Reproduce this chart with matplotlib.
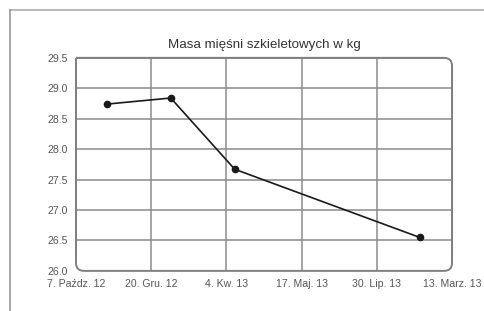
import matplotlib.pyplot as plt
from matplotlib.path import Path
from matplotlib.patches import PathPatch
from matplotlib.lines import Line2D

# data
title = "Masa mięśni szkieletowych w kg"
tick_labels = ["7. Paźdz. 12", "20. Gru. 12", "4. Kw. 13", "17. Maj. 13", "30. Lip. 13", "13. Marz. 13"]
x_pos = [0.41, 1.26, 2.11, 4.57]
mass = [28.74, 28.84, 27.67, 26.55]
y_ticks = [26.0, 26.5, 27.0, 27.5, 28.0, 28.5, 29.0, 29.5]

plt.rcParams['font.family'] = ['Liberation Sans', 'DejaVu Sans']

fig = plt.figure(figsize=(4.84, 3.11), dpi=100)
ax = fig.add_axes([0.157, 0.129, 0.777, 0.685])

ax.set_xlim(0, 5)
ax.set_ylim(26.0, 29.5)
ax.set_xticks(range(len(tick_labels)))
ax.set_xticklabels(tick_labels)
ax.set_yticks(y_ticks)
ax.set_yticklabels([f"{v:.1f}" for v in y_ticks])
ax.tick_params(length=0, labelsize=7.6, labelcolor='#555555')
ax.tick_params(axis='x', pad=6)
ax.tick_params(axis='y', pad=6)
ax.grid(True, color='#8c8c8c', linewidth=1.1)
for s in ax.spines.values():
    s.set_visible(False)

ax.plot(x_pos, mass, color='#1a1a1a', linewidth=1.2, marker='o', markersize=4.5, zorder=3)

ax.set_title(title, fontsize=9.6, color='#333333', pad=7)

# frame: square top-left corner, rounded others
rx = 8 / 376
ry = 8 / 213
verts = [
    (0, 1), (1 - rx, 1), (1, 1), (1, 1 - ry),
    (1, ry), (1, 0), (1 - rx, 0),
    (rx, 0), (0, 0), (0, ry),
    (0, 1),
]
codes = [
    Path.MOVETO, Path.LINETO, Path.CURVE3, Path.CURVE3,
    Path.LINETO, Path.CURVE3, Path.CURVE3,
    Path.LINETO, Path.CURVE3, Path.CURVE3,
    Path.LINETO,
]
frame = PathPatch(Path(verts, codes), transform=ax.transAxes, fill=False,
                  edgecolor='#808080', linewidth=1.4, clip_on=False, zorder=4)
ax.add_patch(frame)
for gl in ax.get_xgridlines() + ax.get_ygridlines():
    gl.set_clip_path(frame)

# page border
fig.add_artist(Line2D([9.5 / 484, 1], [1 - 10 / 311, 1 - 10 / 311], color='#bbbbbb', linewidth=1.5))
fig.add_artist(Line2D([9.5 / 484, 9.5 / 484], [0, 1 - 10 / 311], color='#999999', linewidth=1.2))

fig.savefig('out.png', dpi=100, facecolor='white')
